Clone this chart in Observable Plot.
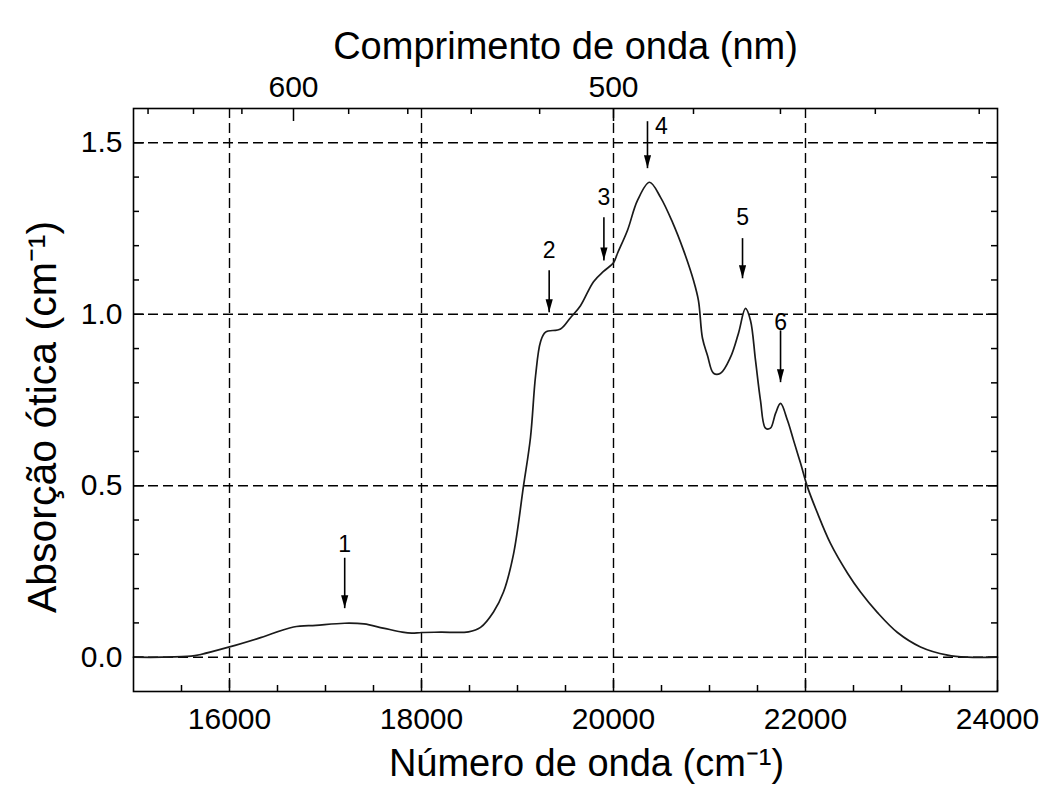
<!DOCTYPE html>
<html>
<head>
<meta charset="utf-8">
<script src="https://cdn.jsdelivr.net/npm/d3@7"></script>
<script src="https://cdn.jsdelivr.net/npm/@observablehq/plot@0.6"></script>
<style>
  html, body { margin: 0; padding: 0; background: #fff; }
  #chart svg { display: block; }
</style>
</head>
<body>
<div id="chart"></div>
<script>
// ---- Data ----
const wavenumber = [15000, 15300, 15600, 15700, 16000, 16300, 16667, 16900, 17200, 17400, 17600, 17800, 17900, 18000, 18200, 18490, 18615, 18750, 18854, 18958, 19063, 19135, 19188, 19240, 19292, 19448, 19552, 19656, 19792, 19896, 20000, 20042, 20146, 20250, 20375, 20490, 20615, 20729, 20833, 20885, 20927, 20979, 21042, 21115, 21219, 21302, 21375, 21427, 21479, 21531, 21583, 21635, 21688, 21740, 21813, 21875, 21948, 22021, 22125, 22260, 22438, 22573, 22750, 22958, 23198, 23479, 23690, 24000];
const absorbance = [0, 0, 0.003, 0.008, 0.03, 0.055, 0.088, 0.093, 0.099, 0.097, 0.085, 0.073, 0.07, 0.072, 0.073, 0.074, 0.087, 0.132, 0.19, 0.30, 0.50, 0.64, 0.82, 0.92, 0.948, 0.957, 0.99, 1.025, 1.095, 1.125, 1.15, 1.178, 1.245, 1.332, 1.385, 1.341, 1.268, 1.187, 1.099, 1.04, 0.93, 0.88, 0.828, 0.828, 0.875, 0.945, 1.017, 0.982, 0.866, 0.749, 0.668, 0.668, 0.711, 0.74, 0.69, 0.633, 0.566, 0.496, 0.42, 0.332, 0.245, 0.19, 0.13, 0.072, 0.03, 0.006, 0, 0];

// Peak annotations
const peakLabels = ["1", "2", "3", "4", "5", "6"];
const arrowX = [17200, 19330, 19900, 20354, 21344, 21740];
const arrowFrom = [0.29, 1.128, 1.283, 1.563, 1.222, 0.953];
const arrowTo = [0.143, 1.006, 1.157, 1.426, 1.105, 0.802];
const labelX = [17200, 19330, 19900, 20500, 21344, 21740];
const labelY = [0.327, 1.187, 1.341, 1.548, 1.283, 0.977];

// Axes / ticks
const xTickLabels = [16000, 18000, 20000, 22000, 24000];
const xMinorTicks = [15500, 16500, 17000, 17500, 18500, 19000, 19500, 20500, 21000, 21500, 22500, 23000, 23500];
const yTickLabels = [0, 0.5, 1.0, 1.5];
const yMinorTicks = [0.1, 0.2, 0.3, 0.4, 0.6, 0.7, 0.8, 0.9, 1.1, 1.2, 1.3, 1.4];
const xGrid = [16000, 18000, 20000, 22000];
const yGrid = [0, 0.5, 1.0, 1.5];
const topMajorNm = [600, 500];
const topMinorNm = [660, 640, 620, 580, 560, 540, 520, 480, 460, 440, 420];

const xTitle = "Número de onda (cm⁻¹)";
const yTitle = "Absorção ótica (cm⁻¹)";
const topTitle = "Comprimento de onda (nm)";

// ---- Build tables ----
const spectrum = wavenumber.map((w, i) => ({w, a: absorbance[i]}));
const peaks = peakLabels.map((label, i) => ({
  label, x: arrowX[i], y1: arrowFrom[i], y2: arrowTo[i], lx: labelX[i], ly: labelY[i]
}));
const toWn = nm => 1e7 / nm;

const W = 1051, H = 800;
const mL = 133, mR = 54, mT = 108, mB = 109;
const plotW = W - mL - mR, plotH = H - mT - mB;
const font = "'Liberation Sans', Arial, Helvetica, sans-serif";

function arrowHead(color) {
  const m = d3.create("svg:marker")
    .attr("viewBox", "-13 -3.8 13 7.6")
    .attr("markerWidth", 13)
    .attr("markerHeight", 7.6)
    .attr("markerUnits", "userSpaceOnUse")
    .attr("orient", "auto")
    .attr("refX", 0)
    .attr("refY", 0)
    .attr("fill", color)
    .attr("stroke", "none");
  m.append("path").attr("d", "M-13,-3.6L0,0L-13,3.6Z");
  return m.node();
}

const chart = Plot.plot({
  width: W,
  height: H,
  marginLeft: mL,
  marginRight: mR,
  marginTop: mT,
  marginBottom: mB,
  style: {fontFamily: font, color: "black", background: "white", fontSize: "30px"},
  x: {domain: [15000, 24000]},
  y: {domain: [-0.1, 1.6]},
  marks: [
    // grid
    Plot.ruleX(xGrid, {x: d => d, stroke: "black", strokeWidth: 1.4, strokeDasharray: "10,5"}),
    Plot.ruleY(yGrid, {y: d => d, stroke: "black", strokeWidth: 1.4, strokeDasharray: "10,5"}),
    // inward ticks
    Plot.tickX(xTickLabels, {x: d => d, insetTop: plotH - 11, stroke: "black", strokeWidth: 1.5}),
    Plot.tickX(xMinorTicks, {x: d => d, insetTop: plotH - 6, stroke: "black", strokeWidth: 1.5}),
    Plot.tickX(topMajorNm, {x: toWn, insetBottom: plotH - 13, stroke: "black", strokeWidth: 1.5}),
    Plot.tickX(topMinorNm, {x: toWn, insetBottom: plotH - 6, stroke: "black", strokeWidth: 1.5}),
    Plot.tickY(yTickLabels, {y: d => d, insetRight: plotW - 11, stroke: "black", strokeWidth: 1.5}),
    Plot.tickY(yMinorTicks, {y: d => d, insetRight: plotW - 6, stroke: "black", strokeWidth: 1.5}),
    Plot.tickY(yTickLabels, {y: d => d, insetLeft: plotW - 11, stroke: "black", strokeWidth: 1.5}),
    Plot.tickY(yMinorTicks, {y: d => d, insetLeft: plotW - 6, stroke: "black", strokeWidth: 1.5}),
    // axes (labels only)
    Plot.axisX(xTickLabels, {anchor: "bottom", tickSize: 0, tickPadding: 16, fontSize: 30, label: null, tickFormat: d => String(d)}),
    Plot.axisY(yTickLabels, {anchor: "left", tickSize: 0, tickPadding: 11, fontSize: 30, label: null, tickFormat: d => d.toFixed(1)}),
    Plot.axisX(topMajorNm.map(toWn), {anchor: "top", tickSize: 0, tickPadding: 12, fontSize: 30, label: null, tickFormat: d => String(Math.round(1e7 / d))}),
    // spectrum
    Plot.line(spectrum, {x: "w", y: "a", stroke: "#1a1a1a", strokeWidth: 1.7, strokeLinejoin: "round", curve: "catmull-rom"}),
    // annotations
    Plot.link(peaks, {x1: "x", x2: "x", y1: "y1", y2: "y2", stroke: "black", strokeWidth: 1.6, markerEnd: arrowHead}),
    Plot.text(peaks, {x: "lx", y: "ly", text: "label", fontSize: 23, fill: "black"}),
    // titles
    Plot.text([topTitle], {text: d => d, frameAnchor: "top", textAnchor: "middle", dy: -76, fontSize: 38, fill: "black"}),
    Plot.text([xTitle], {text: d => d, frameAnchor: "bottom", textAnchor: "middle", dy: 84, dx: 21, fontSize: 38, fill: "black"}),
    Plot.text([yTitle], {text: d => d, frameAnchor: "left", textAnchor: "middle", rotate: -90, dx: -91, dy: 17, fontSize: 41, fill: "black"}),
    // frame
    Plot.frame({stroke: "black", strokeWidth: 1.6})
  ]
});

document.getElementById("chart").append(chart);
</script>
</body>
</html>
